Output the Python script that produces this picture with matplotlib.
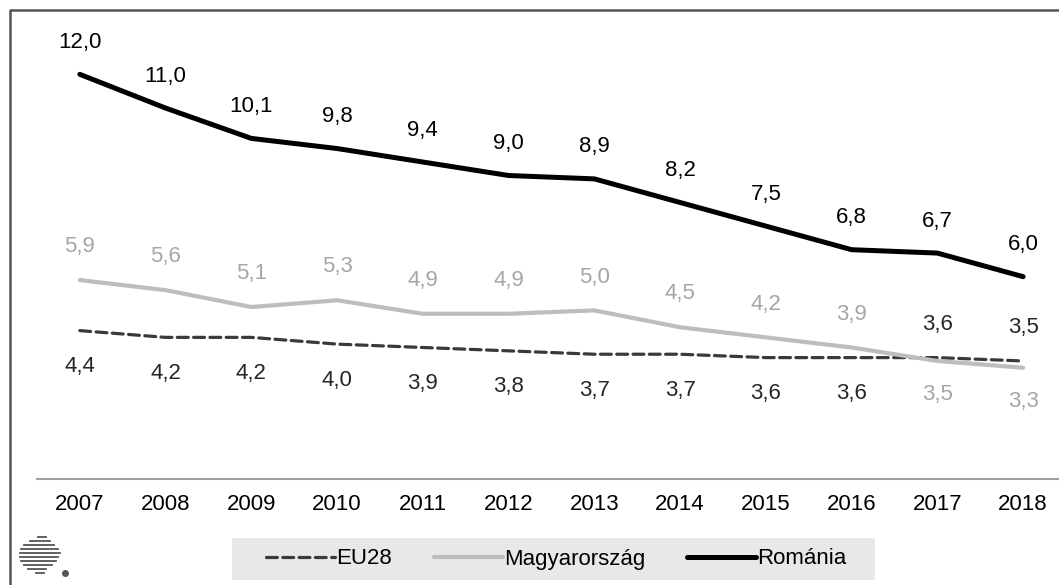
import numpy as np
import matplotlib.pyplot as plt
from matplotlib.lines import Line2D
from matplotlib.patches import Rectangle

years = ["2007", "2008", "2009", "2010", "2011", "2012",
         "2013", "2014", "2015", "2016", "2017", "2018"]
eu28 = [4.4, 4.2, 4.2, 4.0, 3.9, 3.8, 3.7, 3.7, 3.6, 3.6, 3.6, 3.5]
hu = [5.9, 5.6, 5.1, 5.3, 4.9, 4.9, 5.0, 4.5, 4.2, 3.9, 3.5, 3.3]
ro = [12.0, 11.0, 10.1, 9.8, 9.4, 9.0, 8.9, 8.2, 7.5, 6.8, 6.7, 6.0]

plt.rcParams['font.family'] = ['Liberation Sans', 'DejaVu Sans']

fig = plt.figure(figsize=(10.59, 5.85), dpi=100)
ax = fig.add_axes([0.0349, 0.1812, 0.9717, 0.807])
x = np.arange(len(years))

ax.plot(x, eu28, color='#3a3a3a', lw=2.3, dashes=(3.4, 1.7), label='EU28',
        solid_capstyle='round', dash_capstyle='round')
ax.plot(x, hu, color='#bdbdbd', lw=3.0, label='Magyarország', solid_capstyle='round')
ax.plot(x, ro, color='black', lw=3.6, label='Románia', solid_capstyle='round')

fs = 16
fmt = lambda v: f"{v:.1f}".replace('.', ',')
for i in x:
    ax.annotate(fmt(ro[i]), (i, ro[i]), xytext=(0, 23), textcoords='offset points',
                ha='center', va='center', fontsize=fs, color='black')
    swap = hu[i] < eu28[i]
    ax.annotate(fmt(hu[i]), (i, hu[i]), xytext=(0, -24 if swap else 24),
                textcoords='offset points', ha='center', va='center',
                fontsize=fs, color='#a6a6a6')
    ax.annotate(fmt(eu28[i]), (i, eu28[i]), xytext=(0, 24 if swap else -26),
                textcoords='offset points', ha='center', va='center',
                fontsize=fs, color='#262626')

ax.set_xlim(-0.5, len(years) - 0.5)
ax.set_ylim(0, 14)
ax.set_xticks(x)
ax.set_xticklabels(years, fontsize=fs)
ax.tick_params(axis='x', length=0, pad=11)
ax.set_yticks([])
for s in ['top', 'right', 'left']:
    ax.spines[s].set_visible(False)
ax.spines['bottom'].set_color('#a0a0a0')
ax.spines['bottom'].set_linewidth(1.5)

# gray legend band
fig.patches.append(Rectangle((232 / 1059, 5 / 585), 643 / 1059, 42 / 585,
                             transform=fig.transFigure, facecolor='#e8e8e8',
                             edgecolor='none', zorder=-1))
leg = ax.legend(loc='center', bbox_to_anchor=(556 / 1059, 26 / 585),
                bbox_transform=fig.transFigure, ncol=3, frameon=False,
                fontsize=16, handlelength=3.1, handletextpad=0.05,
                columnspacing=1.9, borderpad=0.3, borderaxespad=0)

# outer frame (top and left only)
fig.add_artist(Line2D([10 / 1059, 10 / 1059, 1.0], [0, 1 - 10 / 585, 1 - 10 / 585],
                      transform=fig.transFigure, color='#555555', lw=1.8))

# small logo bottom-left
rows = [(537, 38, 46), (541, 30, 50), (545, 24, 54), (549, 21, 58), (553, 20, 60),
        (557, 20, 58), (561, 21, 56), (565, 24, 52), (569, 28, 46), (573, 36, 44)]
for yy, x0, x1 in rows:
    fig.add_artist(Line2D([x0 / 1059, x1 / 1059], [1 - yy / 585, 1 - yy / 585],
                          transform=fig.transFigure, color='#555555', lw=1.3))
fig.add_artist(Line2D([65 / 1059], [1 - 573 / 585], marker='o', ms=4,
                      color='#555555', transform=fig.transFigure))

fig.savefig('out.png', dpi=100)
